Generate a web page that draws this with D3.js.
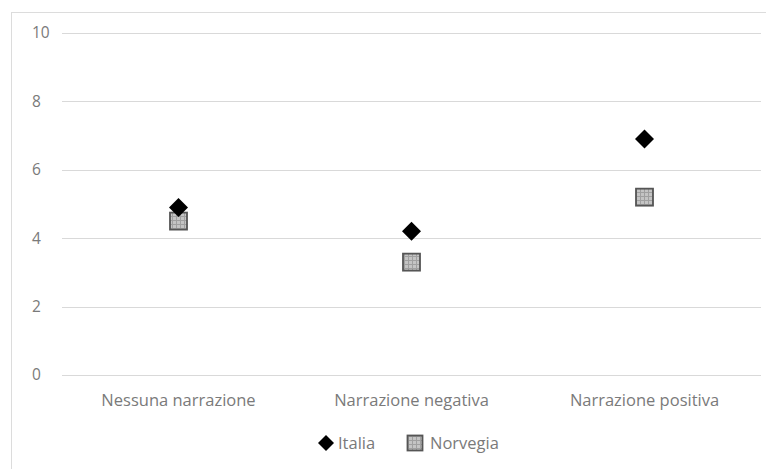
<!DOCTYPE html>
<html>
<head>
<meta charset="utf-8">
<script src="https://cdn.jsdelivr.net/npm/d3@7"></script>
<style>
  html, body { margin: 0; padding: 0; background: #fff; }
  svg { display: block; }
  text { font-family: "Open Sans", "Noto Sans", sans-serif; fill: #7a7a7a; }
</style>
</head>
<body>
<svg id="chart" width="766" height="469"></svg>
<script>
// Chart data
const categories = ["Nessuna narrazione", "Narrazione negativa", "Narrazione positiva"];
const italia = [4.9, 4.2, 6.9];
const norvegia = [4.5, 3.3, 5.2];
const yTicks = [0, 2, 4, 6, 8, 10];
const seriesNames = ["Italia", "Norvegia"];

const svg = d3.select("#chart");
const W = 766, H = 469;
const plot = { left: 62, right: 761, top: 33, bottom: 375 };

// Outer chart frame
svg.append("rect")
  .attr("x", 11.5).attr("y", 12.5)
  .attr("width", W).attr("height", H)
  .attr("fill", "none").attr("stroke", "#dcdcdc").attr("stroke-width", 1);

// Hatched fill for the Norvegia squares
const defs = svg.append("defs");
const pat = defs.append("pattern")
  .attr("id", "grid-fill")
  .attr("patternUnits", "userSpaceOnUse")
  .attr("width", 4).attr("height", 4);
pat.append("rect").attr("width", 4).attr("height", 4).attr("fill", "#c4c4c4");
pat.append("path").attr("d", "M0,0.5H4M0.5,0V4")
  .attr("stroke", "#a0a0a0").attr("stroke-width", 1);

const x = d3.scaleBand().domain(categories).range([plot.left, plot.right]);
const y = d3.scaleLinear().domain([0, 10]).range([plot.bottom, plot.top]);

// Horizontal gridlines
svg.append("g")
  .selectAll("line")
  .data(yTicks)
  .join("line")
  .attr("x1", plot.left).attr("x2", plot.right)
  .attr("y1", d => Math.round(y(d)) + 0.5)
  .attr("y2", d => Math.round(y(d)) + 0.5)
  .attr("stroke", "#d9d9d9").attr("stroke-width", 1);

// Y tick labels
svg.append("g")
  .selectAll("text")
  .data(yTicks)
  .join("text")
  .attr("x", 32)
  .attr("y", d => y(d))
  .attr("dy", "0.35em")
  .attr("font-size", 15.5)
  .text(d => d);

// Category labels
svg.append("g")
  .selectAll("text")
  .data(categories)
  .join("text")
  .attr("x", d => x(d) + x.bandwidth() / 2)
  .attr("y", 400)
  .attr("dy", "0.35em")
  .attr("text-anchor", "middle")
  .attr("font-size", 16.5)
  .text(d => d);

const diamond = s => `M0,${-s}L${s},0L0,${s}L${-s},0Z`;

// Norvegia squares
svg.append("g")
  .selectAll("rect")
  .data(norvegia)
  .join("rect")
  .attr("x", (d, i) => x(categories[i]) + x.bandwidth() / 2 - 8.5)
  .attr("y", d => y(d) - 8.5)
  .attr("width", 17).attr("height", 17)
  .attr("fill", "url(#grid-fill)")
  .attr("stroke", "#555").attr("stroke-width", 1.8);

// Italia diamonds
svg.append("g")
  .selectAll("path")
  .data(italia)
  .join("path")
  .attr("transform", (d, i) => `translate(${x(categories[i]) + x.bandwidth() / 2},${y(d)})`)
  .attr("d", diamond(9.5))
  .attr("fill", "#000");

// Legend
const legend = svg.append("g");
legend.append("path")
  .attr("transform", "translate(326,443)")
  .attr("d", diamond(8))
  .attr("fill", "#000");
legend.append("text")
  .attr("x", 338).attr("y", 443).attr("dy", "0.35em")
  .attr("font-size", 16.5)
  .text(seriesNames[0]);
legend.append("rect")
  .attr("x", 407.5).attr("y", 435.5)
  .attr("width", 15).attr("height", 15)
  .attr("fill", "url(#grid-fill)")
  .attr("stroke", "#555").attr("stroke-width", 1.8);
legend.append("text")
  .attr("x", 430).attr("y", 443).attr("dy", "0.35em")
  .attr("font-size", 16.5)
  .text(seriesNames[1]);
</script>
</body>
</html>
